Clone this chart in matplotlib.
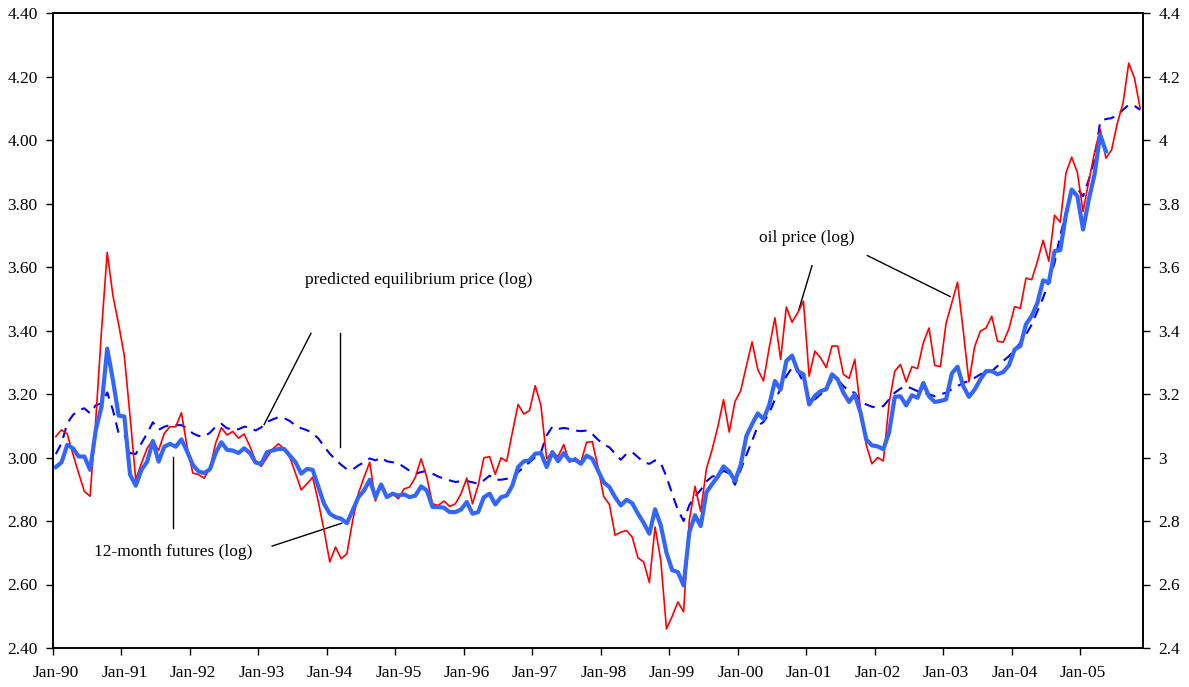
import numpy as np
import matplotlib
matplotlib.use('Agg')
import matplotlib.pyplot as plt
from matplotlib.ticker import FixedLocator, FixedFormatter

plt.rcParams['font.family'] = ['Liberation Serif', 'DejaVu Serif']

# monthly data, Jan-90 onwards (log prices)
oil_price = [
    3.066, 3.087, 3.074, 3.01, 2.95, 2.893, 2.878, 3.12, 3.40, 3.646, 3.51, 3.42,
    3.32, 3.13, 2.93, 2.982, 3.029, 3.055, 3.022, 3.076, 3.097, 3.097, 3.141, 3.034,
    2.951, 2.946, 2.935, 2.967, 3.045, 3.094, 3.071, 3.082, 3.061, 3.074, 3.035, 2.99,
    2.972, 3.00, 3.027, 3.043, 3.027, 3.00, 2.95, 2.898, 2.917, 2.938, 2.86, 2.77,
    2.671, 2.718, 2.681, 2.697, 2.80, 2.886, 2.938, 2.985, 2.863, 2.912, 2.88, 2.886,
    2.87, 2.901, 2.907, 2.938, 2.996, 2.938, 2.854, 2.849, 2.863, 2.846, 2.854, 2.886,
    2.935, 2.854, 2.912, 2.999, 3.003, 2.947, 2.999, 2.988, 3.08, 3.167, 3.137, 3.148,
    3.226, 3.164, 2.996, 3.017, 3.003, 3.041, 2.985, 2.999, 2.985, 3.048, 3.05, 2.97,
    2.877, 2.852, 2.755, 2.765, 2.770, 2.749, 2.684, 2.671, 2.606, 2.781, 2.676, 2.46,
    2.50, 2.545, 2.514, 2.802, 2.909, 2.83, 2.965, 3.025, 3.097, 3.182, 3.08, 3.176,
    3.21, 3.288, 3.364, 3.277, 3.241, 3.346, 3.44, 3.309, 3.474, 3.426, 3.456, 3.492,
    3.256, 3.335, 3.314, 3.283, 3.351, 3.351, 3.262, 3.249, 3.309, 3.15, 3.04, 2.98,
    3.00, 2.989, 3.17, 3.272, 3.293, 3.238, 3.286, 3.280, 3.361, 3.408, 3.29, 3.286,
    3.424, 3.487, 3.552, 3.40, 3.238, 3.349, 3.398, 3.408, 3.445, 3.366, 3.363, 3.405,
    3.475, 3.47, 3.565, 3.56, 3.618, 3.684, 3.618, 3.763, 3.741, 3.896, 3.946, 3.898,
    3.775, 3.87, 3.96, 4.034, 3.943, 3.969, 4.053, 4.116, 4.242, 4.195, 4.10,
]

futures_12m = [
    2.970, 2.985, 3.040, 3.029, 3.003, 3.003, 2.961, 3.087, 3.160, 3.343, 3.244, 3.132,
    3.129, 2.946, 2.911, 2.961, 2.987, 3.052, 2.987, 3.034, 3.043, 3.034, 3.057, 3.019,
    2.977, 2.956, 2.951, 2.963, 3.014, 3.048, 3.024, 3.022, 3.014, 3.029, 3.014, 2.984,
    2.980, 3.017, 3.022, 3.027, 3.027, 3.006, 2.985, 2.949, 2.964, 2.961, 2.907, 2.854,
    2.823, 2.812, 2.807, 2.793, 2.833, 2.875, 2.896, 2.930, 2.875, 2.915, 2.875, 2.886,
    2.880, 2.884, 2.875, 2.880, 2.909, 2.896, 2.844, 2.844, 2.842, 2.828, 2.828, 2.836,
    2.860, 2.823, 2.828, 2.875, 2.886, 2.852, 2.875, 2.880, 2.912, 2.970, 2.988, 2.991,
    3.012, 3.014, 2.970, 3.017, 2.988, 3.014, 2.991, 2.993, 2.980, 3.006, 2.996, 2.959,
    2.922, 2.907, 2.875, 2.849, 2.867, 2.856, 2.823, 2.794, 2.760, 2.837, 2.786, 2.700,
    2.645, 2.639, 2.597, 2.765, 2.818, 2.784, 2.891, 2.916, 2.94, 2.972, 2.956, 2.926,
    2.976, 3.068, 3.105, 3.139, 3.121, 3.165, 3.241, 3.214, 3.304, 3.321, 3.272, 3.262,
    3.167, 3.194, 3.209, 3.215, 3.262, 3.246, 3.204, 3.175, 3.199, 3.141, 3.057, 3.038,
    3.035, 3.026, 3.078, 3.191, 3.193, 3.164, 3.196, 3.188, 3.235, 3.193, 3.175, 3.178,
    3.183, 3.265, 3.286, 3.225, 3.191, 3.214, 3.246, 3.272, 3.272, 3.262, 3.269, 3.29,
    3.34, 3.351, 3.42, 3.446, 3.487, 3.558, 3.551, 3.65, 3.653, 3.765, 3.844, 3.823,
    3.718, 3.812, 3.891, 4.016, 3.964,
]

predicted_eq = [
    3.011, 3.045, 3.108, 3.134, 3.149, 3.155, 3.139, 3.165, 3.170, 3.205, 3.149, 3.076,
    3.074, 3.014, 3.011, 3.045, 3.076, 3.111, 3.087, 3.097, 3.102, 3.102, 3.102, 3.092,
    3.076, 3.068, 3.066, 3.078, 3.097, 3.106, 3.092, 3.089, 3.089, 3.097, 3.095, 3.085,
    3.095, 3.112, 3.12, 3.127, 3.124, 3.115, 3.10, 3.092, 3.086, 3.076, 3.06, 3.035,
    3.012, 2.993, 2.977, 2.963, 2.962, 2.975, 2.985, 2.997, 2.991, 3.0, 2.988, 2.985,
    2.982, 2.970, 2.958, 2.949, 2.954, 2.958, 2.949, 2.940, 2.933, 2.928, 2.923, 2.925,
    2.926, 2.922, 2.917, 2.928, 2.943, 2.930, 2.930, 2.933, 2.936, 2.954, 2.970, 2.985,
    3.001, 3.017, 3.069, 3.097, 3.090, 3.093, 3.090, 3.085, 3.083, 3.085, 3.074, 3.056,
    3.041, 3.032, 3.012, 2.993, 3.012, 3.017, 3.001, 2.985, 2.98, 2.991, 2.982, 2.94,
    2.885, 2.835, 2.80, 2.85, 2.877, 2.898, 2.925, 2.94, 2.943, 2.958, 2.95, 2.914,
    2.961, 3.008, 3.052, 3.10, 3.112, 3.139, 3.183, 3.215, 3.256, 3.283, 3.272, 3.236,
    3.188, 3.183, 3.199, 3.215, 3.246, 3.246, 3.225, 3.209, 3.204, 3.178, 3.167, 3.16,
    3.157, 3.162, 3.183, 3.204, 3.217, 3.225, 3.217, 3.209, 3.204, 3.199, 3.193, 3.199,
    3.204, 3.215, 3.225, 3.235, 3.241, 3.251, 3.262, 3.267, 3.272, 3.288, 3.304, 3.319,
    3.34, 3.361, 3.387, 3.419, 3.461, 3.503, 3.555, 3.613, 3.70, 3.77, 3.844, 3.846,
    3.823, 3.875, 3.938, 4.058, 4.066, 4.069, 4.079, 4.095, 4.111, 4.108, 4.095,
]

year_labels = ['Jan-90', 'Jan-91', 'Jan-92', 'Jan-93', 'Jan-94', 'Jan-95', 'Jan-96',
               'Jan-97', 'Jan-98', 'Jan-99', 'Jan-00', 'Jan-01', 'Jan-02', 'Jan-03',
               'Jan-04', 'Jan-05']
y_ticks = [2.4, 2.6, 2.8, 3.0, 3.2, 3.4, 3.6, 3.8, 4.0, 4.2, 4.4]

n = len(oil_price)
x_oil = np.arange(n)
x_fut = np.arange(len(futures_12m))
x_pred = np.arange(len(predicted_eq))

fig = plt.figure(figsize=(11.89, 6.87), dpi=100)
ax = fig.add_axes([53 / 1189, 1 - 648 / 687, 1090 / 1189, 635 / 687])

ax.plot(x_oil, oil_price, color='#ff0000', lw=1.2, zorder=3)
ax.plot(x_pred, predicted_eq, color='#0000ff', lw=1.5, dashes=(5, 3.5), zorder=2)
ax.plot(x_fut, futures_12m, color='#3366ff', lw=3.0, zorder=4)

ax.set_xlim(-0.5, n - 0.5)
ax.set_ylim(2.4, 4.4)

# category axis: tick marks between months, labels centered on Jan
ax.xaxis.set_major_locator(FixedLocator([12 * k - 0.5 for k in range(len(year_labels))]))
ax.xaxis.set_major_formatter(FixedFormatter([''] * len(year_labels)))
ax.xaxis.set_minor_locator(FixedLocator([12 * k for k in range(len(year_labels))]))
ax.xaxis.set_minor_formatter(FixedFormatter(year_labels))
ax.tick_params(axis='x', which='major', direction='out', length=5, width=1)
ax.tick_params(axis='x', which='minor', length=0, pad=12, labelsize=12.5)

ax.set_yticks(y_ticks)
ax.set_yticklabels(['%.2f' % v for v in y_ticks])
ax.tick_params(axis='y', direction='out', length=5, width=1, labelsize=12.5, pad=6)

ax2 = ax.twinx()
ax2.set_ylim(2.4, 4.4)
ax2.set_yticks(y_ticks)
ax2.set_yticklabels(['%g' % v for v in y_ticks])
ax2.tick_params(axis='y', direction='out', length=5, width=1, labelsize=12.5, pad=6)

for a in (ax, ax2):
    for s in a.spines.values():
        s.set_linewidth(1.2)
        s.set_color('black')

# annotations
txt = dict(fontsize=12.5, ha='center', va='center')
line = dict(color='black', lw=1.0)
ax.text(63.6, 3.56, 'predicted equilibrium price (log)', **txt)
ax.plot([44.7, 36.5], [3.391, 3.104], **line)
ax.plot([49.8, 49.8], [3.391, 3.032], **line)

ax.text(20.5, 2.702, '12-month futures (log)', **txt)
ax.plot([20.5, 20.5], [3.001, 2.777], **line)
ax.plot([37.9, 50.1], [2.721, 2.793], **line)

ax.text(131.5, 3.692, 'oil price (log)', **txt)
ax.plot([132.5, 130.2], [3.604, 3.466], **line)
ax.plot([142.2, 156.7], [3.636, 3.507], **line)

fig.savefig('out.png', dpi=100)
